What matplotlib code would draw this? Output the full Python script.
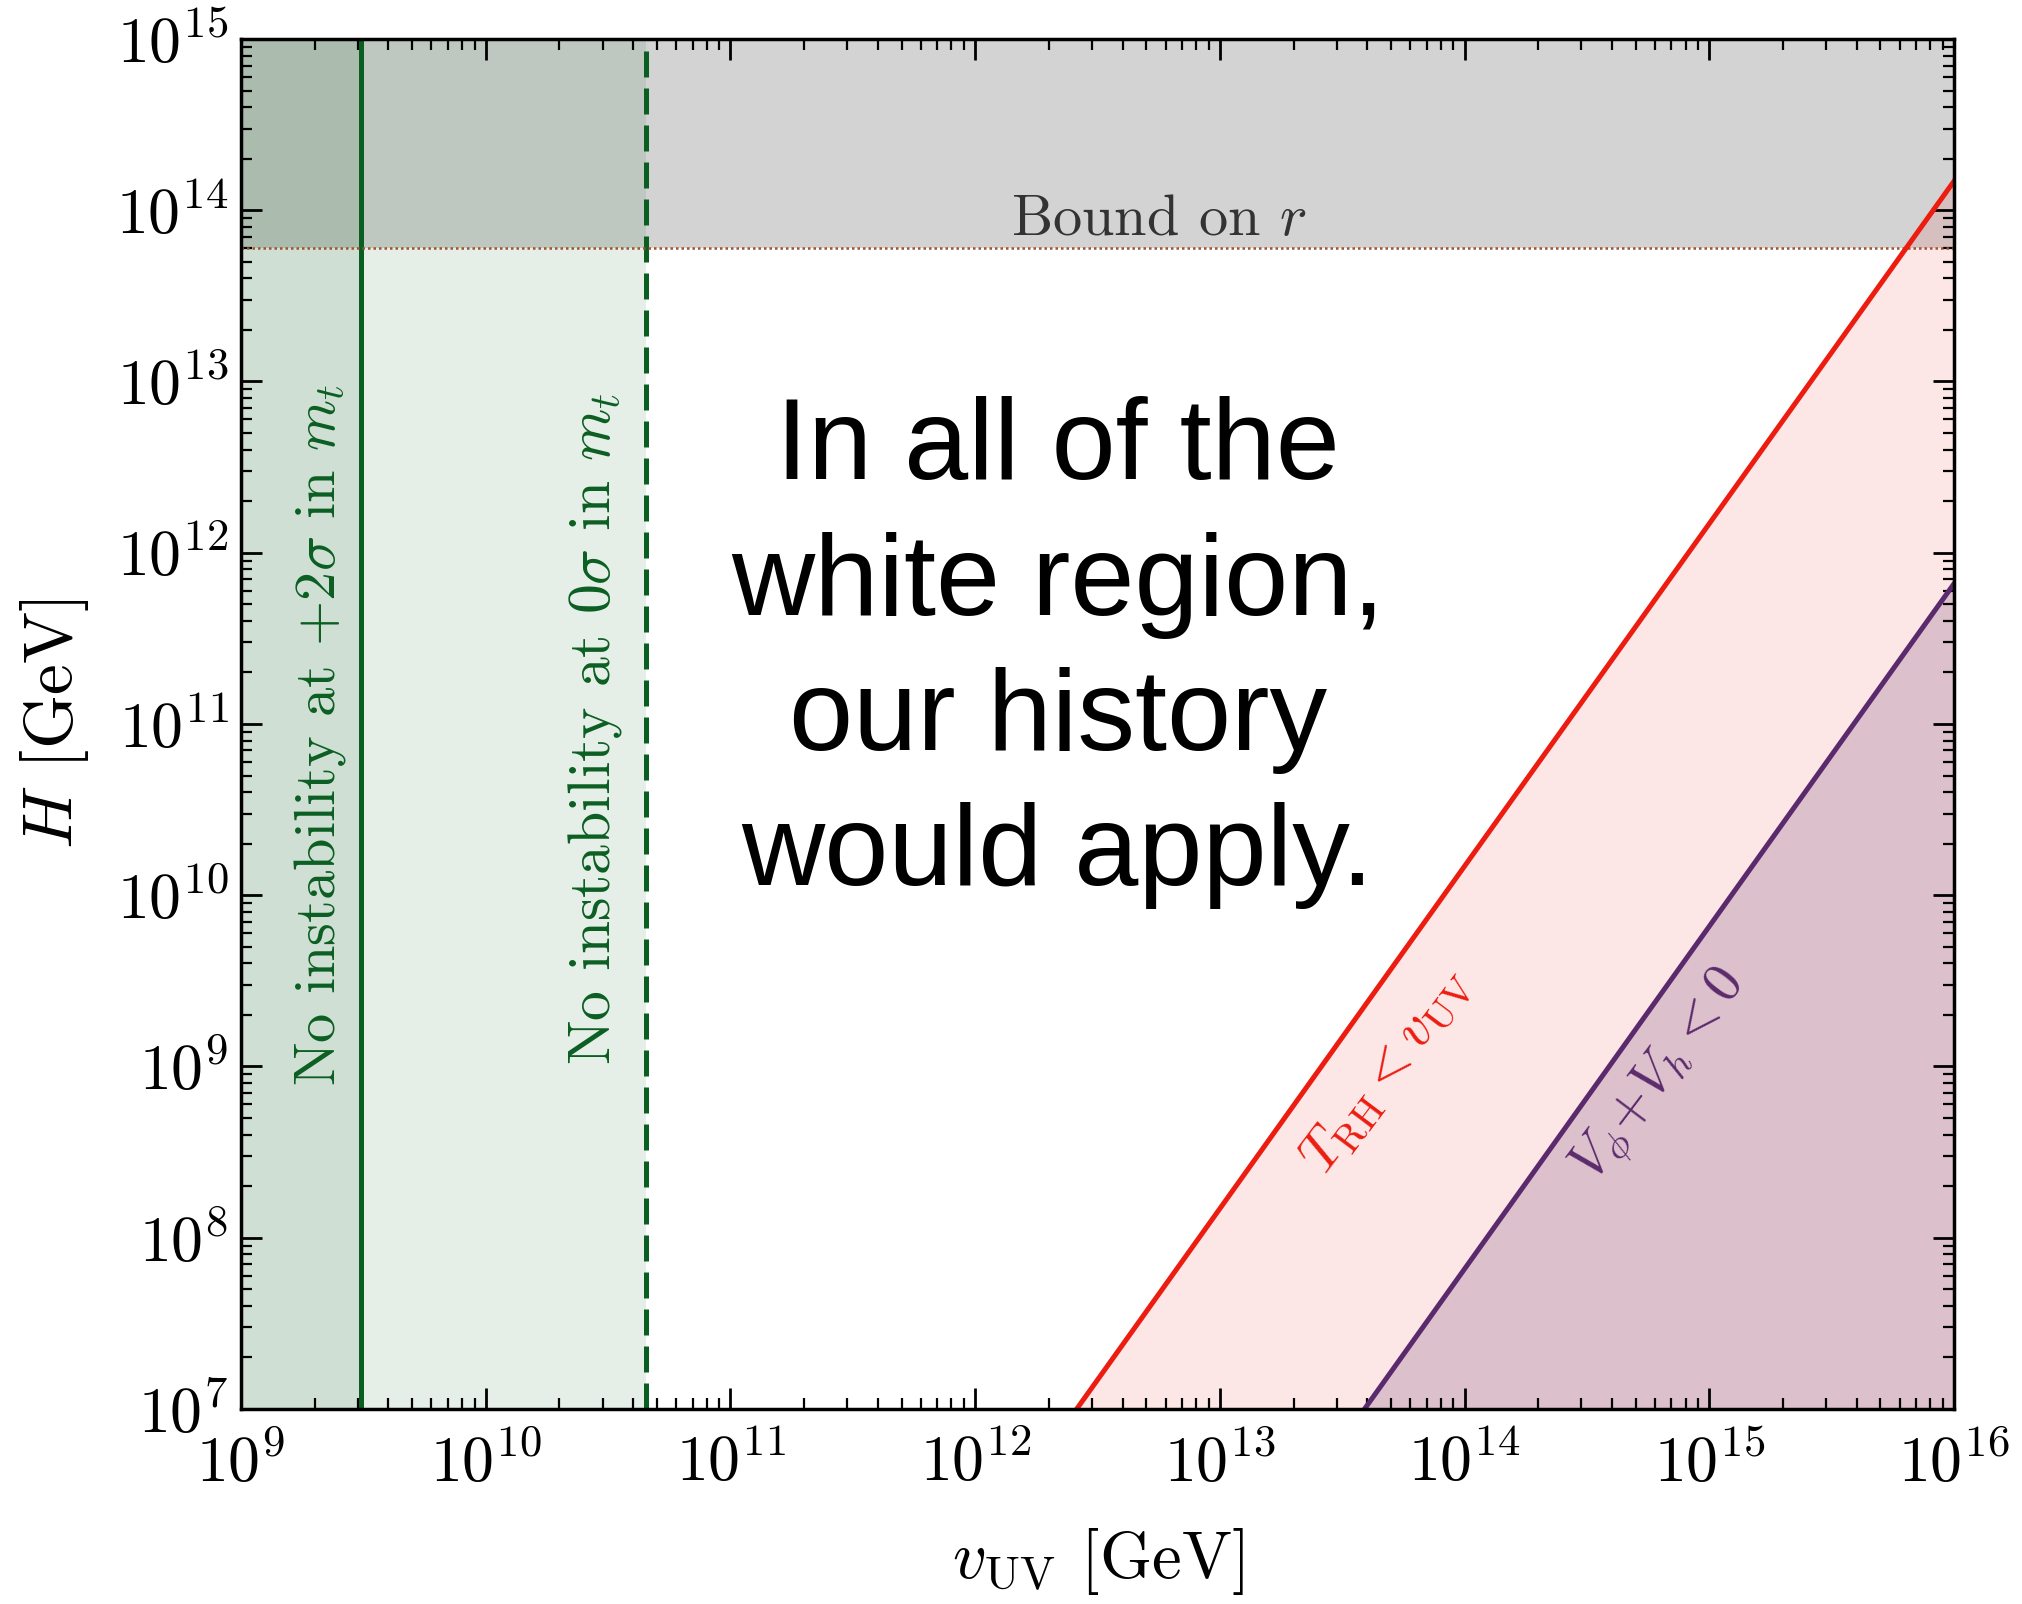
import numpy as np
import matplotlib.pyplot as plt

plt.rcParams['font.family'] = 'serif'
plt.rcParams['font.serif'] = ['cmr10']
plt.rcParams['mathtext.fontset'] = 'cm'
plt.rcParams['axes.formatter.use_mathtext'] = True

# plot range (GeV)
v_lim = [1e9, 1e16]
H_lim = [1e7, 1e15]

# vacuum stability bounds on v_UV
v_stab_2sigma = 3.1e9
v_stab_0sigma = 4.5e10

# tensor-to-scalar ratio bound on H
H_bound_r = 6.0e13

# end points of the two diagonal boundaries
reheat_v = [2.6e12, 1e16]
reheat_H = [1e7, 1.48e14]
pot_v = [3.9e13, 1e16]
pot_H = [1e7, 6.6e11]

green = '#0b5e22'
red = '#ec1c10'
purple = '#5b2a6c'

fig = plt.figure(figsize=(20.22, 16.04), dpi=100)
ax = fig.add_axes([0.1192, 0.1216, 0.8472, 0.8541])
ax.set_xscale('log')
ax.set_yscale('log')
ax.set_xlim(v_lim)
ax.set_ylim(H_lim)

# excluded / shaded regions
ax.axhspan(H_bound_r, H_lim[1], color='#d3d3d3', lw=0, zorder=0)
ax.axvspan(v_lim[0], v_stab_2sigma, color=green, alpha=0.1, lw=0, zorder=1)
ax.axvspan(v_lim[0], v_stab_0sigma, color=green, alpha=0.1, lw=0, zorder=1)
ax.fill_between(reheat_v, H_lim[0], reheat_H, color=red, alpha=0.1, lw=0, zorder=1)
ax.fill_between(pot_v, H_lim[0], pot_H, color=purple, alpha=0.2, lw=0, zorder=1)

# boundary lines
ax.axvline(v_stab_2sigma, color=green, lw=3.6, zorder=3)
ax.axvline(v_stab_0sigma, color=green, lw=3.6, ls=(0, (5.2, 2.2)), zorder=3)
ax.axhline(H_bound_r, color='sienna', lw=1.8, ls=(0, (1, 1.2)), zorder=3)
ax.plot(reheat_v, reheat_H, color=red, lw=3.6, zorder=3)
ax.plot(pot_v, pot_H, color=purple, lw=3.6, zorder=3)

# labels on the plot
ax.text(2.1e9, 8.6e10, r'No instability at $+2\sigma$ in $m_t$', rotation=90,
        color=green, fontsize=42, ha='center', va='center')
ax.text(2.8e10, 9.4e10, r'No instability at $0\sigma$ in $m_t$', rotation=90,
        color=green, fontsize=43, ha='center', va='center')
ax.text(5.6e12, 8.7e13, r'Bound on $r$', color='#333333', fontsize=42,
        ha='center', va='center')
ax.text(4.8e13, 9.5e8, r'$T_{\rm RH}{<}v_{\rm UV}$', rotation=53,
        color=red, fontsize=40, ha='center', va='center')
ax.text(6.3e14, 8.7e8, r'$V_\phi{+}V_h{<}0$', rotation=53,
        color=purple, fontsize=40, ha='center', va='center')
ax.text(0.4767, 0.552, 'In all of the\nwhite region,\nour history\nwould apply.',
        transform=ax.transAxes, family='Liberation Sans', fontsize=83,
        ha='center', va='center', linespacing=1.34, zorder=4)

ax.set_xlabel(r'$v_{\rm UV}$ [GeV]', fontsize=48, labelpad=22)
ax.set_ylabel(r'$H$ [GeV]', fontsize=50, labelpad=18)

ax.set_xticks([10.0**k for k in range(9, 17)])
ax.set_yticks([10.0**k for k in range(7, 16)])
ax.tick_params(which='both', direction='in', top=True, right=True, labelsize=46)
ax.tick_params(which='major', length=15, width=2)
ax.tick_params(which='minor', length=8, width=1.6)
ax.tick_params(axis='x', pad=18)
ax.tick_params(axis='y', pad=9)
for s in ax.spines.values():
    s.set_linewidth(2.5)
    s.set_zorder(5)

fig.savefig('out.png', dpi=100)
